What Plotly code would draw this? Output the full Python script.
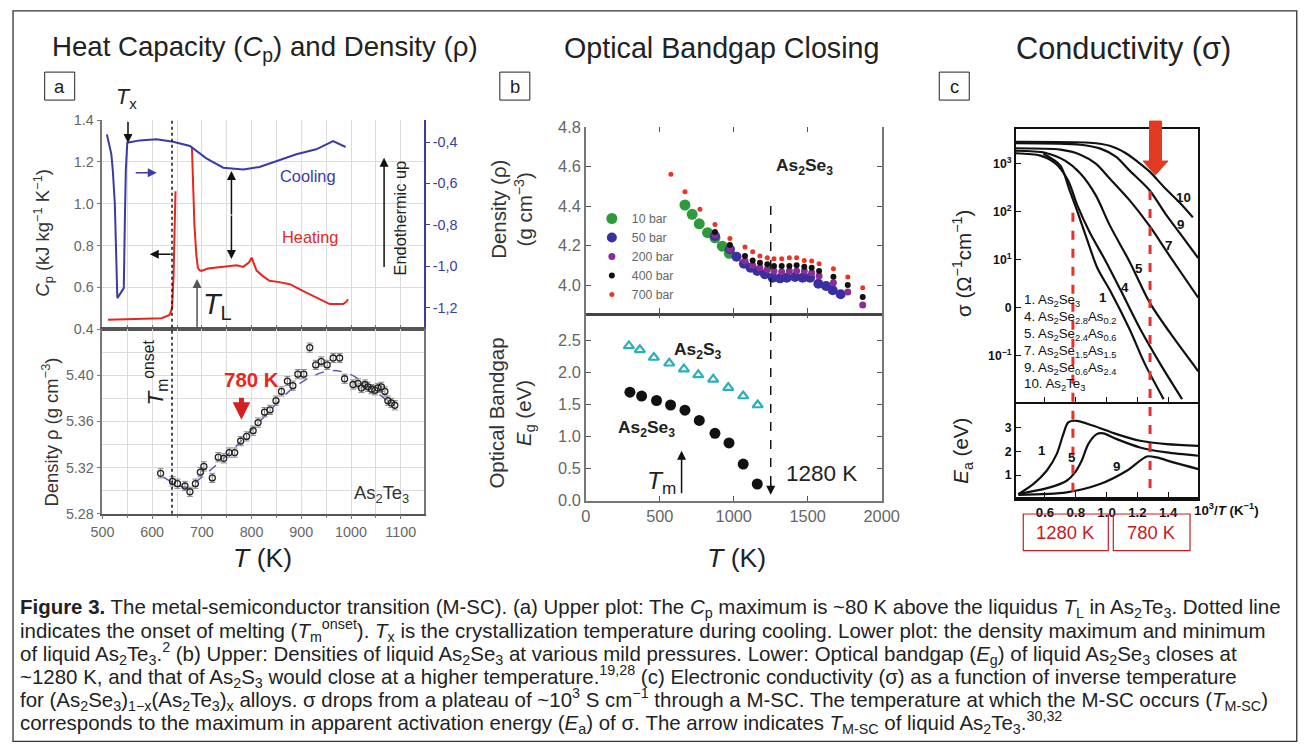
import plotly.graph_objects as go

# The photographed page shows the figure at ~0.977 scale, offset by the body margin,
# so every reference position / size is mapped through S and a small x shift.
S = 1.0235
OFF = 8
DX = 4.5
W, H = 1323, 752
FONT = "Liberation Sans, Arial, Helvetica, sans-serif"

# ---------------- Panel a (As2Te3) ----------------
a_cool_T = [509, 518, 521, 525, 530, 543, 545, 547, 550, 575, 609, 642, 676, 709, 743, 783, 816, 850, 890, 930, 964, 989]
a_cool_dsc = [-0.363, -0.459, -0.540, -0.699, -1.153, -1.105, -0.800, -0.540, -0.403, -0.392, -0.387, -0.399,
              -0.419, -0.479, -0.524, -0.532, -0.520, -0.492, -0.459, -0.435, -0.395, -0.424]
a_heat1_T = [511, 560, 600, 619, 635, 640, 643, 645, 647]
a_heat1_cp = [0.445, 0.447, 0.448, 0.452, 0.468, 0.50, 0.65, 0.85, 1.06]
a_heat2_T = [680, 682, 685, 689, 692, 695, 699, 712, 729, 750, 770, 783, 795, 800, 810, 822, 836, 856, 877, 897,
             917, 937, 957, 975, 984, 990, 994]
a_heat2_cp = [1.27, 1.10, 0.90, 0.75, 0.694, 0.682, 0.679, 0.690, 0.694, 0.700, 0.706, 0.698, 0.720, 0.742, 0.680,
              0.655, 0.631, 0.625, 0.615, 0.590, 0.567, 0.545, 0.520, 0.520, 0.520, 0.530, 0.543]
a_Tm_onset = 640

a_rho_T = [617, 641, 651, 666, 676, 687, 697, 704, 721, 733, 744, 755, 766, 778, 790, 803, 813, 826, 837, 849,
           860, 872, 883, 893, 905, 917, 929, 940, 952, 964, 977, 987, 1004, 1014, 1021, 1028, 1034, 1041, 1048,
           1054, 1061, 1068, 1074, 1081, 1088]
a_rho = [5.315, 5.308, 5.306, 5.304, 5.299, 5.306, 5.316, 5.321, 5.311, 5.329, 5.328, 5.333, 5.333, 5.343, 5.347,
         5.352, 5.359, 5.368, 5.370, 5.378, 5.386, 5.395, 5.391, 5.401, 5.401, 5.424, 5.409, 5.412, 5.409, 5.415,
         5.415, 5.397, 5.392, 5.393, 5.389, 5.392, 5.390, 5.388, 5.387, 5.389, 5.390, 5.386, 5.378, 5.376, 5.374]
a_rho_err = 0.004
a_fit_T = [622, 642, 669, 709, 756, 823, 890, 957, 997, 1024, 1084]
a_fit_rho = [5.312, 5.307, 5.303, 5.315, 5.333, 5.363, 5.391, 5.404, 5.401, 5.394, 5.374]

# ---------------- Panel b (As2Se3 density & bandgap) ----------------
b_T_10 = [670, 719, 767, 823, 873, 922, 970]
b_rho_10 = [4.406, 4.359, 4.311, 4.266, 4.240, 4.198, 4.162]
b_T_50 = [873, 974, 1019, 1069, 1114, 1159, 1211, 1263, 1313, 1358, 1414, 1466, 1516, 1572, 1624, 1669, 1723]
b_rho_50 = [4.249, 4.182, 4.144, 4.109, 4.089, 4.072, 4.056, 4.038, 4.035, 4.038, 4.042, 4.038, 4.038, 4.008,
            3.996, 3.975, 3.955]
b_T_hi = [873, 974, 1076, 1128, 1177, 1227, 1272, 1324, 1376, 1425, 1477, 1527, 1577, 1674, 1771, 1872]
b_rho_200 = [4.254, 4.182, 4.123, 4.101, 4.089, 4.081, 4.072, 4.069, 4.072, 4.072, 4.072, 4.064, 4.047, 4.013,
             3.966, 3.900]
b_rho_400 = [4.269, 4.204, 4.148, 4.126, 4.114, 4.106, 4.097, 4.097, 4.097, 4.101, 4.094, 4.089, 4.072, 4.043,
             4.002, 3.941]
b_T_700 = [575, 670, 771, 873, 974, 1076, 1128, 1177, 1227, 1272, 1324, 1376, 1425, 1477, 1527, 1577, 1674, 1771, 1872]
b_rho_700 = [4.561, 4.473, 4.384, 4.308, 4.237, 4.193, 4.170, 4.148, 4.139, 4.134, 4.134, 4.139, 4.139, 4.126,
             4.123, 4.109, 4.084, 4.042, 3.988]
b_T_s3 = [291, 365, 460, 564, 663, 760, 861, 963, 1064, 1162]
b_Eg_s3 = [2.41, 2.35, 2.23, 2.14, 2.05, 1.96, 1.89, 1.76, 1.63, 1.49]
b_T_se3 = [298, 377, 478, 573, 670, 767, 873, 968, 1064, 1159]
b_Eg_se3 = [1.69, 1.63, 1.56, 1.49, 1.41, 1.25, 1.05, 0.90, 0.57, 0.26]
b_T_close = 1250

# ---------------- Panel c (conductivity vs 1000/T) ----------------
c_x10 = [0.41, 0.89, 1.02, 1.12, 1.20, 1.28, 1.38, 1.48, 1.56]
c_s10 = [2900, 2760, 2390, 1710, 1120, 690, 310, 150, 77]
c_x9 = [0.41, 0.83, 0.96, 1.06, 1.15, 1.28, 1.38, 1.48, 1.595]
c_s9 = [2700, 2510, 2080, 1420, 726, 280, 93.5, 34.4, 10.9]
c_x7 = [0.41, 0.70, 0.83, 0.93, 1.02, 1.15, 1.28, 1.41, 1.595]
c_s7 = [2120, 1980, 1560, 1010, 497, 174, 50.4, 12.0, 1.63]
c_x5 = [0.41, 0.60, 0.73, 0.83, 0.93, 1.02, 1.15, 1.28, 1.41, 1.595]
c_s5 = [1880, 1710, 1170, 630, 221, 53.1, 9.1, 1.29, 0.308, 0.048]
c_x4 = [0.41, 0.57, 0.67, 0.75, 0.81, 0.89, 0.99, 1.09, 1.22, 1.35, 1.49]
c_s4 = [1670, 1490, 1010, 451, 137, 37.8, 9.96, 2.38, 0.354, 0.0667, 0.0126]
c_x1 = [0.59, 0.70, 0.76, 0.81, 0.87, 0.94, 1.02, 1.15, 1.25, 1.37]
c_s1 = [1630, 923, 280, 103, 28.4, 6.79, 2.38, 0.354, 0.0667, 0.0126]
c_ea_x1 = [0.427, 0.524, 0.611, 0.676, 0.719, 0.751, 0.806, 0.914, 1.065, 1.217, 1.390, 1.596]
c_ea_1 = [0.20, 0.62, 1.18, 1.88, 2.72, 3.21, 3.28, 3.07, 2.72, 2.44, 2.30, 2.23]
c_ea_x5 = [0.427, 0.632, 0.741, 0.795, 0.838, 0.881, 0.936, 0.979, 1.066, 1.217, 1.390, 1.596]
c_ea_5 = [0.20, 0.48, 0.76, 1.11, 1.60, 2.30, 2.72, 2.75, 2.51, 2.16, 1.95, 1.81]
c_ea_x9 = [0.427, 0.741, 0.957, 1.131, 1.261, 1.325, 1.433, 1.596]
c_ea_9 = [0.17, 0.27, 0.62, 1.18, 1.78, 1.74, 1.53, 1.25]
c_T_msc = [1280, 780]
c_compounds = ["1. As<sub>2</sub>Se<sub>3</sub>", "4. As<sub>2</sub>Se<sub>2.8</sub>As<sub>0.2</sub>",
               "5. As<sub>2</sub>Se<sub>2.4</sub>As<sub>0.6</sub>", "7. As<sub>2</sub>Se<sub>1.5</sub>As<sub>1.5</sub>",
               "9. As<sub>2</sub>Se<sub>0.6</sub>As<sub>2.4</sub>", "10. As<sub>2</sub>Te<sub>3</sub>"]

caption_lines = [
    "<b>Figure 3.</b> The metal-semiconductor transition (M-SC). (a) Upper plot: The <i>C</i><sub>p</sub> maximum is ~80 K above the liquidus <i>T</i><sub>L</sub> in As<sub>2</sub>Te<sub>3</sub>. Dotted line",
    "indicates the onset of melting (<i>T</i><sub>m</sub><sup>onset</sup>). <i>T</i><sub>x</sub> is the crystallization temperature during cooling. Lower plot: the density maximum and minimum",
    "of liquid As<sub>2</sub>Te<sub>3</sub>.<sup>2</sup> (b) Upper: Densities of liquid As<sub>2</sub>Se<sub>3</sub> at various mild pressures. Lower: Optical bandgap (<i>E</i><sub>g</sub>) of liquid As<sub>2</sub>Se<sub>3</sub> closes at",
    "~1280 K, and that of As<sub>2</sub>S<sub>3</sub> would close at a higher temperature.<sup>19,28</sup> (c) Electronic conductivity (σ) as a function of inverse temperature",
    "for (As<sub>2</sub>Se<sub>3</sub>)<sub>1−x</sub>(As<sub>2</sub>Te<sub>3</sub>)<sub>x</sub> alloys. σ drops from a plateau of ~10<sup>3</sup> S cm<sup>−1</sup> through a M-SC. The temperature at which the M-SC occurs (<i>T</i><sub>M-SC</sub>)",
    "corresponds to the maximum in apparent activation energy (<i>E</i><sub>a</sub>) of σ. The arrow indicates <i>T</i><sub>M-SC</sub> of liquid As<sub>2</sub>Te<sub>3</sub>.<sup>30,32</sup>",
]


def px(x):
    return max(((x - DX) * S - OFF) / W, 0.0008)


def py(y):
    return 1 - (y * S - OFF) / H


def fs(v):
    return round(v * S, 2)


BLUE = "#3b3ba3"
RED = "#e8261e"
GRID = "#dcdcdc"

fig = go.Figure()

# ---- a top
fig.add_trace(go.Scatter(x=a_cool_T, y=a_cool_dsc, mode="lines", line=dict(color=BLUE, width=2),
                         xaxis="x", yaxis="y2", showlegend=False))
fig.add_trace(go.Scatter(x=a_heat1_T, y=a_heat1_cp, mode="lines", line=dict(color=RED, width=2),
                         xaxis="x", yaxis="y", showlegend=False))
fig.add_trace(go.Scatter(x=a_heat2_T, y=a_heat2_cp, mode="lines", line=dict(color=RED, width=2),
                         xaxis="x", yaxis="y", showlegend=False))
# ---- a bottom
fig.add_trace(go.Scatter(x=a_fit_T, y=a_fit_rho, mode="lines", line=dict(color="#5a5ab8", width=1.5, dash="dash"),
                         line_shape="spline", xaxis="x2", yaxis="y3", showlegend=False))
fig.add_trace(go.Scatter(x=a_rho_T, y=a_rho, mode="markers",
                         marker=dict(symbol="circle-open", size=6, color="#222", line=dict(width=1.3)),
                         error_y=dict(type="constant", value=a_rho_err, color="#888", thickness=1, width=3),
                         xaxis="x2", yaxis="y3", showlegend=False))

# ---- b top
for name, xs, ys, col, sz in [("10 bar", b_T_10, b_rho_10, "#2e9a3c", 11),
                              ("50 bar", b_T_50, b_rho_50, "#3a2f9e", 10),
                              ("200 bar", b_T_hi, b_rho_200, "#8b2d96", 7),
                              ("400 bar", b_T_hi, b_rho_400, "#111111", 6),
                              ("700 bar", b_T_700, b_rho_700, "#ee3322", 5)]:
    fig.add_trace(go.Scatter(x=xs, y=ys, mode="markers", name=name,
                             marker=dict(size=sz, color=col, line=dict(width=0)),
                             xaxis="x3", yaxis="y4", showlegend=True))
# ---- b bottom
fig.add_trace(go.Scatter(x=b_T_s3, y=b_Eg_s3, mode="markers",
                         marker=dict(symbol="triangle-up-open", size=9, color="#2ab0b8", line=dict(width=2.2)),
                         xaxis="x4", yaxis="y5", showlegend=False))
fig.add_trace(go.Scatter(x=b_T_se3, y=b_Eg_se3, mode="markers",
                         marker=dict(symbol="circle", size=11, color="#111"),
                         xaxis="x4", yaxis="y5", showlegend=False))
fig.add_trace(go.Scatter(x=[], y=[], xaxis="x7", yaxis="y4", showlegend=False))
fig.add_trace(go.Scatter(x=[], y=[], xaxis="x8", yaxis="y5", showlegend=False))

# ---- c sigma
for xs, ys in [(c_x10, c_s10), (c_x9, c_s9), (c_x7, c_s7), (c_x5, c_s5), (c_x4, c_s4), (c_x1, c_s1)]:
    fig.add_trace(go.Scatter(x=xs, y=ys, mode="lines", line=dict(color="#111", width=2.2, shape="spline", smoothing=0.8),
                             xaxis="x5", yaxis="y6", showlegend=False))
for xs, ys in [(c_ea_x1, c_ea_1), (c_ea_x5, c_ea_5), (c_ea_x9, c_ea_9)]:
    fig.add_trace(go.Scatter(x=xs, y=ys, mode="lines", line=dict(color="#111", width=2.2, shape="spline", smoothing=0.8),
                             xaxis="x6", yaxis="y7", showlegend=False))

# ---------------- axes ----------------
a_dom_x = [px(102.7), px(424.3)]
a_range = [500, 1146.9]
b_dom_x = [px(586), px(881.7)]
c_dom_x = [px(1016), px(1198.3)]
c_range = [0.4117, 1.5955]
tf_gray14 = dict(size=fs(14), color="#666", family=FONT)
tf_gray16 = dict(size=fs(16), color="#666", family=FONT)
tf_c = dict(size=fs(12), color="#111", family=FONT)

layout = dict(
    xaxis=dict(domain=a_dom_x, range=a_range, anchor="y", showticklabels=False, dtick=50, ticks="inside", ticklen=4,
               tickcolor="#777", showgrid=True, gridcolor=GRID, showline=True, linecolor="#555", linewidth=1.5,
               zeroline=False),
    yaxis=dict(domain=[py(328.3), py(119)], range=[0.4, 1.4], dtick=0.2, tickformat=".1f", ticks="outside",
               ticklen=4, tickcolor="#777", tickfont=tf_gray14, showgrid=True, gridcolor=GRID, showline=True,
               linecolor="#777", linewidth=1.5, zeroline=False, anchor="x"),
    yaxis2=dict(overlaying="y", side="right", anchor="x", range=[-1.303, -0.294],
                tickvals=[-0.4, -0.6, -0.8, -1.0, -1.2], ticktext=["-0,4", "-0,6", "-0,8", "-1,0", "-1,2"],
                ticks="outside", ticklen=4, tickcolor=BLUE, tickfont=dict(size=fs(14), color=BLUE, family=FONT),
                showgrid=False, showline=True, linecolor=BLUE, linewidth=1.5, zeroline=False),
    xaxis2=dict(domain=a_dom_x, range=a_range, anchor="y3", dtick=100, ticks="outside", ticklen=4, tickcolor="#777",
                tickfont=tf_gray14, showgrid=True, gridcolor=GRID,
                minor=dict(dtick=50, showgrid=True, gridcolor=GRID, ticks="outside", ticklen=3, tickcolor="#777"),
                showline=True, mirror=True, linecolor="#555", linewidth=1.5, zeroline=False),
    yaxis3=dict(domain=[py(513), py(328.3)], range=[5.28, 5.44], tickvals=[5.28, 5.32, 5.36, 5.40],
                tickformat=".2f", ticks="outside", ticklen=4, tickcolor="#777", tickfont=tf_gray14, showgrid=True,
                gridcolor=GRID, minor=dict(dtick=0.02, showgrid=True, gridcolor=GRID), showline=True, mirror=True,
                linecolor="#777", linewidth=1.5, zeroline=False, anchor="x2"),
    xaxis3=dict(domain=b_dom_x, range=[0, 2000], anchor="y4", showticklabels=False, tickvals=[500, 1000, 1500],
                ticks="inside", ticklen=5, tickcolor="#555", showgrid=False, showline=True, linecolor="#444",
                linewidth=2.5, zeroline=False),
    yaxis4=dict(domain=[py(312.3), py(126)], range=[3.859, 4.8], tickvals=[4.0, 4.2, 4.4, 4.6, 4.8],
                tickformat=".1f", ticks="inside", ticklen=5, tickcolor="#555", tickfont=tf_gray16, showgrid=False,
                showline=True, mirror="ticks", linecolor="#777", linewidth=1.5, zeroline=False, anchor="x3"),
    xaxis4=dict(domain=b_dom_x, range=[0, 2000], anchor="y5", tickvals=[0, 500, 1000, 1500, 2000], ticks="inside",
                ticklen=5, tickcolor="#555", tickfont=tf_gray16, showgrid=False, showline=True, linecolor="#777",
                linewidth=1.5, zeroline=False),
    yaxis5=dict(domain=[py(500), py(312.3)], range=[0, 2.92], tickvals=[0, 0.5, 1.0, 1.5, 2.0, 2.5],
                tickformat=".1f", ticks="inside", ticklen=5, tickcolor="#555", tickfont=tf_gray16, showgrid=False,
                showline=True, mirror="ticks", linecolor="#777", linewidth=1.5, zeroline=False, anchor="x4"),
    xaxis7=dict(overlaying="x3", side="top", anchor="y4", range=[0, 2000], tickvals=[500, 1000, 1500],
                ticks="inside", ticklen=5, tickcolor="#555", showticklabels=False, showline=False, showgrid=False,
                zeroline=False),
    xaxis8=dict(overlaying="x4", side="top", anchor="y5", range=[0, 2000], tickvals=[500, 1000, 1500],
                ticks="inside", ticklen=5, tickcolor="#555", showticklabels=False, showline=False, showgrid=False,
                zeroline=False),
    xaxis5=dict(domain=c_dom_x, range=c_range, anchor="y6", showticklabels=False, tickvals=[0.6, 0.8, 1.0, 1.2, 1.4],
                ticks="inside", ticklen=5, tickcolor="#111", showgrid=False, showline=True, mirror=True,
                linecolor="#111", linewidth=2, zeroline=False),
    yaxis6=dict(type="log", domain=[py(401.7), py(128.3)], range=[-1.97, 3.72], tickvals=[1000, 100, 10, 1, 0.1],
                ticktext=["<b>10<sup>3</sup></b>", "<b>10<sup>2</sup></b>", "<b>10<sup>1</sup></b>", "<b>0</b>",
                          "<b>10<sup>−1</sup></b>"],
                ticks="inside", ticklen=5, tickcolor="#111", tickfont=tf_c, showgrid=False, showline=True,
                mirror=True, linecolor="#111", linewidth=2, zeroline=False, anchor="x5"),
    xaxis6=dict(domain=c_dom_x, range=c_range, anchor="y7", tickvals=[0.6, 0.8, 1.0, 1.2, 1.4],
                ticktext=["<b>0.6</b>", "<b>0.8</b>", "<b>1.0</b>", "<b>1.2</b>", "<b>1.4</b>"], ticks="inside",
                ticklen=5, tickcolor="#111", tickfont=dict(size=fs(13), color="#111", family=FONT), showgrid=False,
                showline=True, linecolor="#111", linewidth=4, zeroline=False),
    yaxis7=dict(domain=[py(496.7), py(401.7)], range=[0.06, 4.05], tickvals=[1, 2, 3],
                ticktext=["<b>1</b>", "<b>2</b>", "<b>3</b>"], ticks="inside", ticklen=5, tickcolor="#111",
                tickfont=tf_c, showgrid=False, showline=True, mirror=True, linecolor="#111", linewidth=2,
                zeroline=False, anchor="x6"),
)

annotations = []


def txt(x, y, s, size, color="#222", xanchor="center", angle=0, **kw):
    annotations.append(dict(x=px(x), y=py(y), xref="paper", yref="paper", text=s, showarrow=False,
                            font=dict(size=fs(size), color=color, family=FONT), xanchor=xanchor, yanchor="middle",
                            textangle=angle, **kw))


def arrow(x0, y0, x1, y1, color="#111", width=1.5, head=2, size=1.2, side="end"):
    annotations.append(dict(x=px(x1), y=py(y1), xref="paper", yref="paper", ax=(x0 - x1) * S, ay=(y0 - y1) * S,
                            axref="pixel", ayref="pixel", text="", showarrow=True, arrowhead=head,
                            arrowsize=size, arrowwidth=width, arrowcolor=color, arrowside=side, standoff=0,
                            startstandoff=0))


# titles
txt(265, 47, "Heat Capacity (<i>C</i><sub>p</sub>) and Density (ρ)", 27)
txt(722, 47, "Optical Bandgap Closing", 28)
txt(1123, 47, "Conductivity (σ)", 30)
txt(60, 85, "a", 18)
txt(515, 85, "b", 18)
txt(954.3, 85, "c", 18)

# panel a annotations
txt(127, 97, "<i>T</i><sub>x</sub>", 21)
arrow(128.3, 120, 128.3, 142)
arrow(135, 171.7, 157, 171.7, color=BLUE)
txt(308, 175, "Cooling", 16, BLUE)
txt(310, 236, "Heating", 16, RED)
arrow(172, 253.3, 150, 253.3)
arrow(231.7, 214, 231.7, 170)
arrow(231.7, 214, 231.7, 258)
txt(400, 216.7, "Endothermic up", 16, angle=-90)
arrow(384.3, 265, 384.3, 156.7)
arrow(197.3, 327, 197.3, 278, color="#555")
txt(218, 305, "<i>T</i><sub>L</sub>", 28)
txt(156, 372, "<i>T</i><sub>m</sub><sup>onset</sup>", 22, angle=-90)
txt(252, 378.3, "<b>780 K</b>", 20, RED)
arrow(241.7, 396, 241.7, 419, color="#d42020", width=5, size=0.7)
txt(382, 493, "As<sub>2</sub>Te<sub>3</sub>", 18, "#333")
txt(44, 232, "<i>C</i><sub>p</sub> (kJ kg<sup>−1</sup> K<sup>−1</sup>)", 18, "#333", angle=-90)
txt(50, 431, "Density ρ (g cm<sup>−3</sup>)", 18, "#333", angle=-90)
txt(263, 557, "<i>T</i> (K)", 26)

# panel b annotations
txt(512, 208, "Density (ρ)<br>(g cm<sup>−3</sup>)", 20, "#333", angle=-90)
txt(512, 412, "Optical Bandgap<br><i>E</i><sub>g</sub> (eV)", 20, "#333", angle=-90)
txt(805, 165, "<b>As<sub>2</sub>Se<sub>3</sub></b>", 17)
txt(698, 350, "<b>As<sub>2</sub>S<sub>3</sub></b>", 17)
txt(647, 428, "<b>As<sub>2</sub>Se<sub>3</sub></b>", 17)
arrow(681.7, 493, 681.7, 450)
txt(662, 482, "<i>T</i><sub>m</sub>", 24)
txt(822, 473, "1280 K", 22)
txt(737, 557, "<i>T</i> (K)", 26)
annotations.append(dict(x=b_T_close, y=py(494), xref="x4", yref="paper", ax=0, ay=-12 * S, text="", showarrow=True,
                        arrowhead=2, arrowsize=1.2, arrowwidth=1.5, arrowcolor="#111", standoff=0))

# panel c annotations
txt(962, 262, "σ (Ω<sup>−1</sup>cm<sup>−1</sup>)", 20, "#222", angle=-90)
txt(962, 450, "<i>E</i><sub>a</sub> (eV)", 20, "#222", angle=-90)
for s, x, y in [("10", 1183, 197), ("9", 1180, 224), ("7", 1168, 245), ("5", 1139, 268), ("4", 1125, 287),
                ("1", 1103, 297), ("1", 1042, 450), ("5", 1072, 457), ("9", 1116, 466)]:
    txt(x, y, "<b>" + s + "</b>", 13, "#111")
for i, s in enumerate(c_compounds):
    txt(1022, 300 + i * 16.8, s, 13, "#111", xanchor="left")
txt(1192, 509, "<b>10<sup>3</sup>/<i>T</i> (K<sup>−1</sup>)</b>", 13, "#111", xanchor="left")
txt(1065.8, 532, "1280 K", 18, "#c42026")
txt(1151.7, 532, "780 K", 18, "#c42026")

# caption
for i, line in enumerate(caption_lines):
    txt(18, 607 + i * 23, line, 20, "#222", xanchor="left")

shapes = []


def rect(x0, y0, x1, y1, color="#222", width=1):
    shapes.append(dict(type="rect", xref="paper", yref="paper", x0=px(x0), y0=py(y0), x1=px(x1), y1=py(y1),
                       line=dict(color=color, width=width), fillcolor="rgba(0,0,0,0)"))


rect(8.6, 9.7, 1296.7, 741, "#333", 1.3)
rect(45, 71, 75, 99)
rect(500, 71, 530, 99)
rect(939.3, 71, 969.3, 99)
rect(1023.3, 513.3, 1108.3, 550, "#c42026", 1.2)
rect(1113.3, 513.3, 1190, 550, "#c42026", 1.2)

shapes.append(dict(type="line", xref="x", yref="paper", x0=a_Tm_onset, x1=a_Tm_onset, y0=py(513), y1=py(119),
                   line=dict(color="#111", width=1.5, dash="dot")))
shapes.append(dict(type="line", xref="x3", yref="paper", x0=b_T_close, x1=b_T_close, y0=py(205), y1=py(488),
                   line=dict(color="#111", width=1.5, dash="dash")))
for T, ytop in zip(c_T_msc, [211.7, 190]):
    shapes.append(dict(type="line", xref="x5", yref="paper", x0=1000 / T, x1=1000 / T, y0=py(ytop), y1=py(495),
                       line=dict(color="#e8302a", width=3, dash="dash")))
ax_ = [1149.5, 1161.5, 1161.5, 1168, 1155.3, 1143, 1149.5]
ay_ = [120, 120, 160, 160, 174, 160, 160]
path = "M " + " L ".join(f"{px(a):.5f},{py(b):.5f}" for a, b in zip(ax_, ay_)) + " Z"
shapes.append(dict(type="path", xref="paper", yref="paper", path=path, fillcolor="#e23a22",
                   line=dict(color="#e23a22", width=1)))

fig.update_layout(**layout)
fig.update_layout(
    width=W, height=H, margin=dict(l=0, r=0, t=0, b=0), paper_bgcolor="white", plot_bgcolor="white",
    font=dict(family=FONT, color="#222"), annotations=annotations, shapes=shapes,
    legend=dict(x=px(592), y=py(203), xanchor="left", yanchor="top", bgcolor="rgba(0,0,0,0)",
                font=dict(size=fs(12), color="#666", family=FONT), tracegroupgap=0),
)

fig.write_html("out.html")
